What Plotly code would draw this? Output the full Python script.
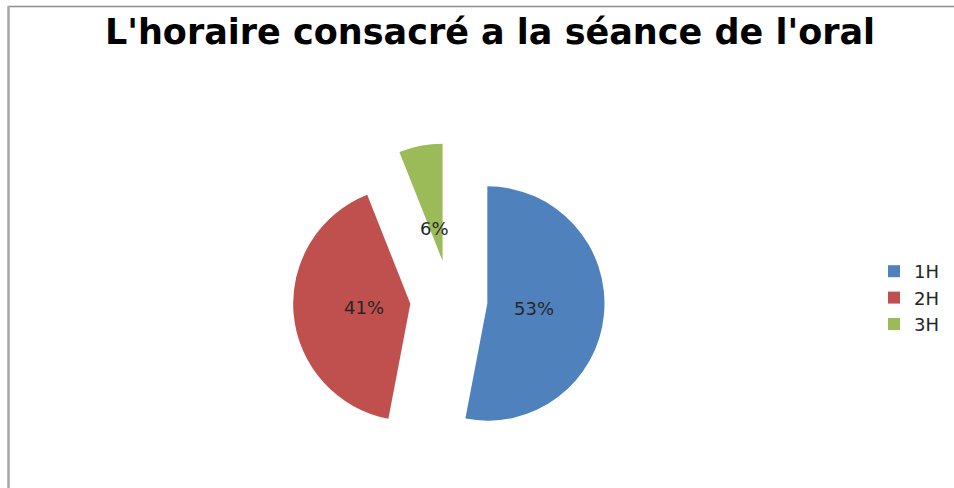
import plotly.graph_objects as go

categories = ["1H", "2H", "3H"]
values = [53, 41, 6]
colors = ["#4F81BD", "#C0504D", "#9BBB59"]
pulls = [0.32, 0.34, 0.34]

W, H = 954, 488
total = sum(values)
pct_labels = [f"{round(100 * v / total)}%" for v in values]
# label anchor points (pixels) for each slice's percentage text
label_px = [(534, 308), (364, 307), (434, 229)]

fig = go.Figure()
fig.add_trace(go.Pie(
    labels=categories,
    values=values,
    sort=False,
    direction="clockwise",
    rotation=0,
    pull=pulls,
    marker=dict(colors=colors, line=dict(width=0)),
    textinfo="none",
    domain=dict(x=[293 / W, 607 / W], y=[1 - 457 / H, 1 - 143 / H]),
    hoverinfo="label+percent",
))

annotations = [
    dict(text=t, x=px / W, y=1 - py / H, xref="paper", yref="paper",
         xanchor="center", yanchor="middle", showarrow=False,
         font=dict(family="DejaVu Sans", size=18, color="#262626"))
    for t, (px, py) in zip(pct_labels, label_px)
]

fig.update_layout(
    width=W,
    height=H,
    margin=dict(l=0, r=0, t=0, b=0),
    paper_bgcolor="white",
    plot_bgcolor="white",
    title=dict(
        text="L'horaire consacré a la séance de l'oral",
        x=490 / W,
        xanchor="center",
        y=1 - 32 / H,
        yanchor="middle",
        font=dict(family="DejaVu Sans", size=35, color="black", weight="bold"),
    ),
    legend=dict(
        x=874 / W,
        xanchor="left",
        y=1 - 298 / H,
        yanchor="middle",
        font=dict(family="DejaVu Sans", size=18, color="#262626"),
        bgcolor="rgba(0,0,0,0)",
    ),
    showlegend=True,
    annotations=annotations,
    shapes=[
        dict(type="line", xref="paper", yref="paper",
             x0=8 / W, x1=1, y0=1 - 6.5 / H, y1=1 - 6.5 / H,
             line=dict(color="#8c8c8c", width=1.5)),
        dict(type="line", xref="paper", yref="paper",
             x0=8.5 / W, x1=8.5 / W, y0=1 - 6 / H, y1=0,
             line=dict(color="#a6a6a6", width=2.5)),
    ],
)

fig.write_html(
    "out.html",
    config={"displayModeBar": False},
    post_script="document.body.style.margin='0';document.body.style.padding='0';",
)
